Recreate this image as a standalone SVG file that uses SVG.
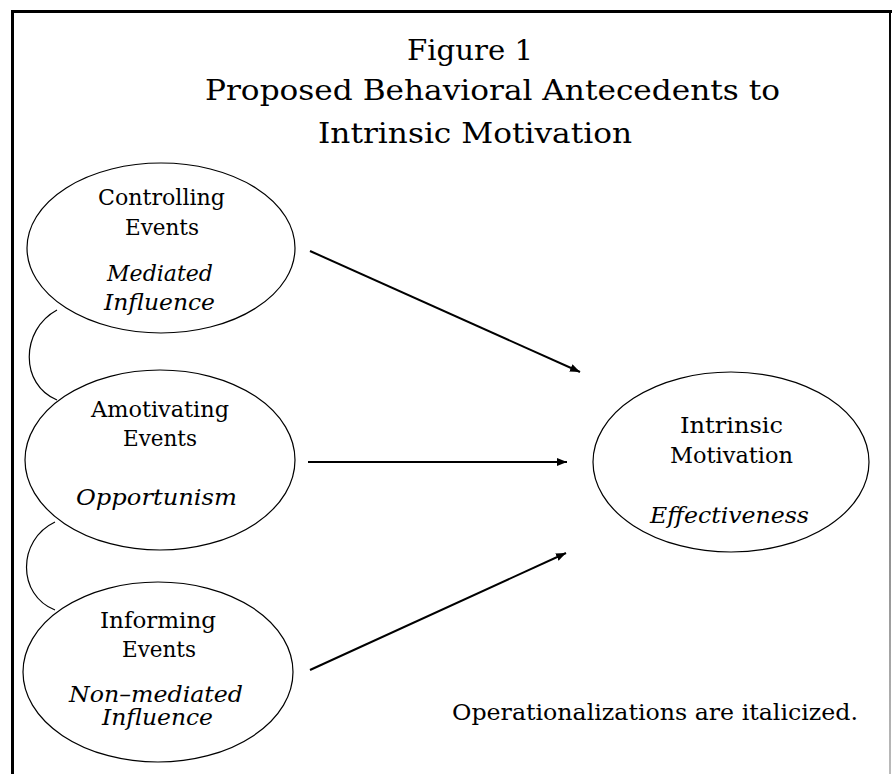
<svg xmlns="http://www.w3.org/2000/svg" width="892" height="774" viewBox="0 0 892 774">
<defs>
<style>
.t{font-family:"DejaVu Serif","Liberation Serif",serif;font-size:21.5px;fill:#000}
.i{font-style:italic}
.h{font-family:"DejaVu Serif","Liberation Serif",serif;font-size:27px;fill:#000}
.e{fill:none;stroke:#000;stroke-width:1.2}
.c{fill:none;stroke:#000;stroke-width:2}
.a{fill:none;stroke:#000;stroke-width:1.2}
</style>
<marker id="ah" markerUnits="userSpaceOnUse" markerWidth="12" markerHeight="10" refX="10" refY="4" orient="auto">
<path d="M0,0 L10,4 L0,8 Z" fill="#000"/>
</marker>
<linearGradient id="rg" gradientUnits="userSpaceOnUse" x1="0" y1="10" x2="0" y2="774">
<stop offset="0" stop-color="#000"/>
<stop offset="0.3" stop-color="#555"/>
<stop offset="1" stop-color="#bbb"/>
</linearGradient>
</defs>
<rect width="892" height="774" fill="#fff"/>
<g id="frame">
<line x1="12.5" y1="11.5" x2="12.5" y2="774" stroke="#000" stroke-width="3"/>
<line x1="11" y1="11.5" x2="892" y2="11.5" stroke="#000" stroke-width="3"/>
<line x1="890" y1="10" x2="890" y2="774" stroke="url(#rg)" stroke-width="2"/>
</g>
<g id="title">
<text class="h" x="407" y="60" textLength="126" lengthAdjust="spacingAndGlyphs">Figure 1</text>
<text class="h" x="205" y="100" textLength="575" lengthAdjust="spacingAndGlyphs">Proposed Behavioral Antecedents to</text>
<text class="h" x="318" y="143" textLength="314" lengthAdjust="spacingAndGlyphs">Intrinsic Motivation</text>
</g>
<g id="controlling">
<ellipse class="e" cx="161" cy="248" rx="134" ry="85"/>
<text class="t" x="98" y="205" textLength="127" lengthAdjust="spacingAndGlyphs">Controlling</text>
<text class="t" x="125" y="235" textLength="74" lengthAdjust="spacingAndGlyphs">Events</text>
<text class="t i" x="107" y="281" textLength="106" lengthAdjust="spacingAndGlyphs">Mediated</text>
<text class="t i" x="104" y="310" textLength="111" lengthAdjust="spacingAndGlyphs">Influence</text>
</g>
<g id="amotivating">
<ellipse class="e" cx="160" cy="460" rx="135" ry="90"/>
<text class="t" x="91" y="417" textLength="138" lengthAdjust="spacingAndGlyphs">Amotivating</text>
<text class="t" x="123" y="446" textLength="74" lengthAdjust="spacingAndGlyphs">Events</text>
<text class="t i" x="76" y="505" textLength="161" lengthAdjust="spacingAndGlyphs">Opportunism</text>
</g>
<g id="informing">
<ellipse class="e" cx="158" cy="672" rx="135" ry="90"/>
<text class="t" x="100" y="628" textLength="116" lengthAdjust="spacingAndGlyphs">Informing</text>
<text class="t" x="122" y="657" textLength="74" lengthAdjust="spacingAndGlyphs">Events</text>
<text class="t i" x="69" y="702" textLength="174" lengthAdjust="spacingAndGlyphs">Non–mediated</text>
<text class="t i" x="102" y="725" textLength="111" lengthAdjust="spacingAndGlyphs">Influence</text>
</g>
<g id="intrinsic">
<ellipse class="e" cx="731" cy="462" rx="138" ry="90"/>
<text class="t" x="680" y="433" textLength="103" lengthAdjust="spacingAndGlyphs">Intrinsic</text>
<text class="t" x="670" y="463" textLength="123" lengthAdjust="spacingAndGlyphs">Motivation</text>
<text class="t i" x="650" y="523" textLength="159" lengthAdjust="spacingAndGlyphs">Effectiveness</text>
</g>
<g id="note">
<text class="t" x="452" y="720" textLength="406" lengthAdjust="spacingAndGlyphs">Operationalizations are italicized.</text>
</g>
<g id="connectors">
<line class="c" x1="310" y1="251" x2="580" y2="372" marker-end="url(#ah)"/>
<line class="c" x1="308" y1="462" x2="567" y2="462" marker-end="url(#ah)"/>
<line class="c" x1="310" y1="670" x2="566" y2="553" marker-end="url(#ah)"/>
<path class="a" d="M57,310 C20,330 20,385 57,400"/>
<path class="a" d="M55,522 C17,540 17,595 55,610"/>
</g>
</svg>
